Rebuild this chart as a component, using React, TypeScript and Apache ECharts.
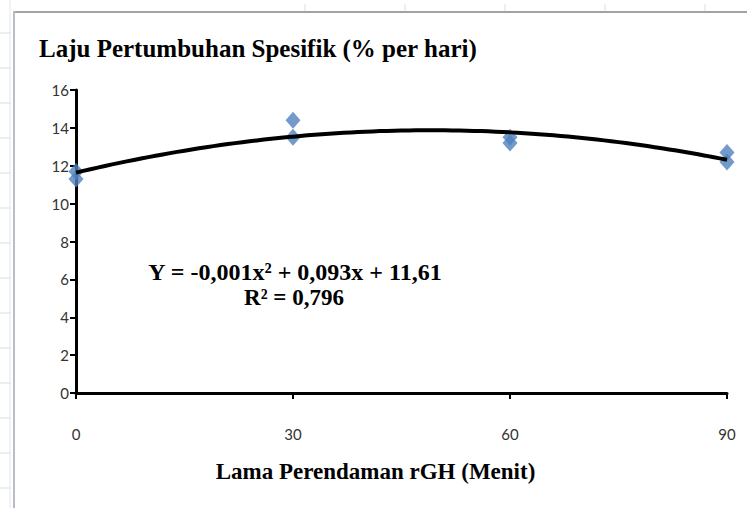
import React, { useEffect, useRef } from "react";
import * as echarts from "echarts";

// Data
const xValues: number[] = [0, 0, 30, 30, 60, 60, 90, 90];
const yValues: number[] = [11.7, 11.3, 14.4, 13.5, 13.5, 13.2, 12.7, 12.2];
const xTicks: number[] = [0, 30, 60, 90];
const titleText = "Laju Pertumbuhan Spesifik (% per hari)";
const xAxisTitle = "Lama Perendaman rGH (Menit)";
const equationText = "Y = -0,001x² + 0,093x + 11,61";
const r2Text = "R² = 0,796";

// quadratic least squares fit of the data (trend line)
function fitQuadratic(xs: number[], ys: number[]): [number, number, number] {
  const S = [0, 0, 0, 0, 0];
  const T = [0, 0, 0];
  for (let i = 0; i < xs.length; i++) {
    const x = xs[i];
    for (let k = 0; k < 5; k++) S[k] += Math.pow(x, k);
    for (let k = 0; k < 3; k++) T[k] += Math.pow(x, k) * ys[i];
  }
  const A = [
    [S[0], S[1], S[2], T[0]],
    [S[1], S[2], S[3], T[1]],
    [S[2], S[3], S[4], T[2]],
  ];
  for (let c = 0; c < 3; c++) {
    let p = c;
    for (let r = c + 1; r < 3; r++) if (Math.abs(A[r][c]) > Math.abs(A[p][c])) p = r;
    [A[c], A[p]] = [A[p], A[c]];
    for (let r = 0; r < 3; r++) {
      if (r === c) continue;
      const f = A[r][c] / A[c][c];
      for (let k = c; k < 4; k++) A[r][k] -= f * A[c][k];
    }
  }
  return [A[0][3] / A[0][0], A[1][3] / A[1][1], A[2][3] / A[2][2]];
}

export default function App() {
  const ref = useRef<HTMLDivElement>(null);
  useEffect(() => {
    if (!ref.current) return;
    const chart = echarts.init(ref.current, null, { renderer: "svg" });
    const [a, b, c] = fitQuadratic(xValues, yValues);
    const xmin = xTicks[0];
    const xmax = xTicks[xTicks.length - 1];
    const trend: number[][] = [];
    for (let x = xmin; x <= xmax; x += 1) trend.push([x, a + b * x + c * x * x]);

    const serif = "'Liberation Serif', 'Times New Roman', serif";
    const sans = "Lato, 'Liberation Sans', sans-serif";
    const gridColor = "#d8dce2";
    const graphics: any[] = [];
    // spreadsheet row ticks left of frame
    for (let y = 33; y < 508; y += 35) {
      graphics.push({ type: "line", shape: { x1: 0, y1: y, x2: 11, y2: y }, style: { stroke: gridColor, lineWidth: 1 }, silent: true });
    }
    // spreadsheet column ticks above frame
    for (let x = 305; x < 747; x += 100) {
      graphics.push({ type: "line", shape: { x1: x, y1: 4, x2: x, y2: 11 }, style: { stroke: gridColor, lineWidth: 1 }, silent: true });
    }
    graphics.push({ type: "line", shape: { x1: 10, y1: 0, x2: 10, y2: 508 }, style: { stroke: "#e4e6ea", lineWidth: 1 }, silent: true });
    // chart frame
    graphics.push({ type: "line", shape: { x1: 13, y1: 12, x2: 747, y2: 12 }, style: { stroke: "#a3a3a3", lineWidth: 2 }, silent: true });
    graphics.push({ type: "line", shape: { x1: 14, y1: 11, x2: 14, y2: 508 }, style: { stroke: "#b8bcc4", lineWidth: 2 }, silent: true });
    // equation annotation
    graphics.push({
      type: "text", x: 295, y: 272,
      style: { text: equationText, font: `bold 24px ${serif}`, fill: "#000", align: "center", verticalAlign: "middle" },
    });
    graphics.push({
      type: "text", x: 294, y: 297,
      style: { text: r2Text, font: `bold 23px ${serif}`, fill: "#000", align: "center", verticalAlign: "middle" },
    });

    chart.setOption({
      animation: false,
      backgroundColor: "#ffffff",
      title: {
        text: titleText,
        left: 34,
        top: 31,
        textStyle: { fontFamily: serif, fontWeight: "bold", fontSize: 25, color: "#000" },
      },
      grid: { left: 76, right: 20, top: 90, bottom: 115, containLabel: false },
      xAxis: {
        type: "value",
        min: xmin,
        max: xmax,
        interval: 30,
        name: xAxisTitle,
        nameLocation: "middle",
        nameGap: 67,
        nameTextStyle: { fontFamily: serif, fontWeight: "bold", fontSize: 23, color: "#000", padding: [0, 52, 0, 0] },
        axisLine: { show: true, onZero: false, lineStyle: { color: "#000", width: 3 } },
        axisTick: { show: true, inside: false, length: 6, lineStyle: { color: "#000", width: 2 } },
        axisLabel: { margin: 33, fontFamily: sans, fontSize: 15, color: "#333" },
        splitLine: { show: false },
      },
      yAxis: {
        type: "value",
        min: 0,
        max: 16,
        interval: 2,
        axisLine: { show: true, lineStyle: { color: "#000", width: 3 } },
        axisTick: { show: true, inside: false, length: 6, lineStyle: { color: "#000", width: 2 } },
        axisLabel: { margin: 7, fontFamily: sans, fontSize: 15, color: "#333" },
        splitLine: { show: false },
      },
      graphic: graphics,
      series: [
        {
          type: "scatter",
          data: xValues.map((x, i) => [x, yValues[i]]),
          symbol: "diamond",
          symbolSize: [15, 17],
          itemStyle: { color: "#4F81BD" },
          z: 2,
        },
        {
          type: "line",
          data: trend,
          showSymbol: false,
          symbol: "none",
          smooth: false,
          lineStyle: { color: "#000", width: 4 },
          z: 3,
        },
      ],
    });
    return () => chart.dispose();
  }, []);
  return (
    <div
      ref={ref}
      style={{ position: "absolute", left: 0, top: 0, width: 747, height: 508 }}
    />
  );
}
